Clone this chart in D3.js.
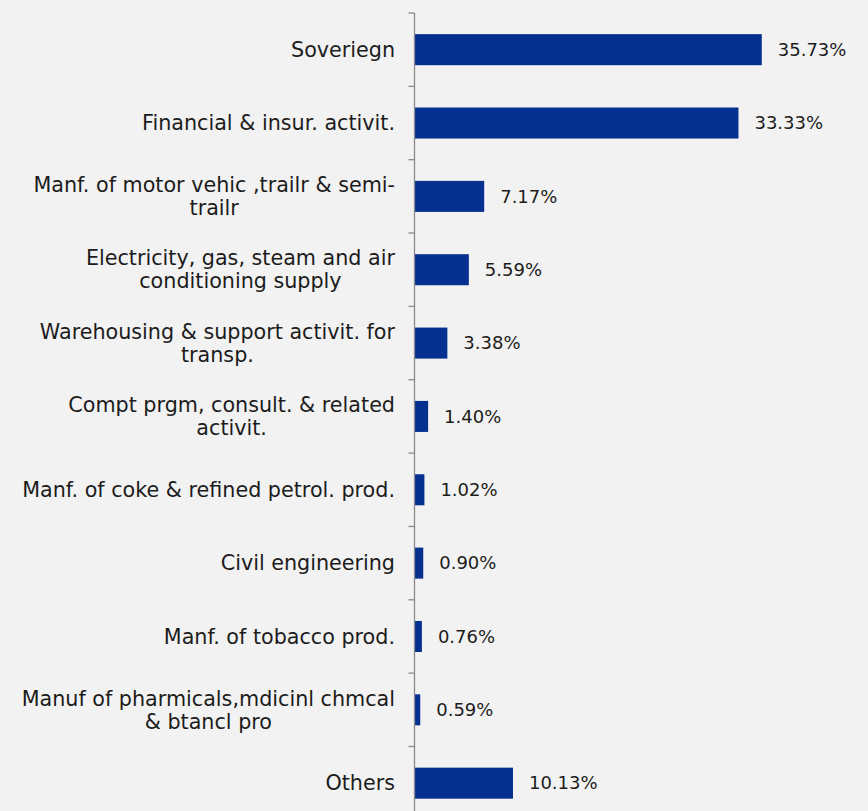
<!DOCTYPE html>
<html>
<head>
<meta charset="utf-8">
<script src="https://cdn.jsdelivr.net/npm/d3@7/dist/d3.min.js"></script>
<style>
  html, body { margin: 0; padding: 0; background: #f2f2f2; }
  svg { display: block; }
  text { font-family: "DejaVu Sans", sans-serif; fill: #1c1c1c; }
</style>
</head>
<body>
<script>
// Sector exposure, share of total (%)
const categories = [
  "Soveriegn",
  "Financial & insur. activit.",
  "Manf. of motor vehic ,trailr & semi-trailr",
  "Electricity, gas, steam and air conditioning supply",
  "Warehousing & support activit. for transp.",
  "Compt prgm, consult. & related activit.",
  "Manf. of coke & refined petrol. prod.",
  "Civil engineering",
  "Manf. of tobacco prod.",
  "Manuf of pharmicals,mdicinl chmcal & btancl pro",
  "Others"
];
// How each category name wraps onto lines
const labelLines = [
  ["Soveriegn"],
  ["Financial & insur. activit."],
  ["Manf. of motor vehic ,trailr & semi-", "trailr"],
  ["Electricity, gas, steam and air", "conditioning supply"],
  ["Warehousing & support activit. for", "transp."],
  ["Compt prgm, consult. & related", "activit."],
  ["Manf. of coke & refined petrol. prod."],
  ["Civil engineering"],
  ["Manf. of tobacco prod."],
  ["Manuf of pharmicals,mdicinl chmcal", "& btancl pro"],
  ["Others"]
];
const values = [35.73, 33.33, 7.17, 5.59, 3.38, 1.40, 1.02, 0.90, 0.76, 0.59, 10.13];

const W = 868, H = 811;
const axisX = 414.5;
const plotTop = 13;
const step = 73.35;
const barColor = "#05308f";
const catFontSize = 20.7;
const valFontSize = 18;

const svg = d3.select("body").append("svg")
  .attr("width", W).attr("height", H);

const x = d3.scaleLinear().domain([0, 40]).range([axisX, axisX + 9.72 * 40]);
const y = d3.scaleBand()
  .domain(categories)
  .range([plotTop, plotTop + step * categories.length])
  .paddingInner(0.577)
  .paddingOuter(0.577 / 2);

// bars
svg.append("g").selectAll("rect")
  .data(categories)
  .join("rect")
  .attr("x", x(0))
  .attr("y", d => y(d))
  .attr("width", (d, i) => x(values[i]) - x(0))
  .attr("height", y.bandwidth())
  .attr("fill", barColor);

// vertical category axis with boundary ticks
const axis = svg.append("g");
axis.append("line")
  .attr("x1", axisX).attr("x2", axisX)
  .attr("y1", plotTop).attr("y2", H + 10)
  .attr("stroke", "#8a8a8a").attr("stroke-width", 1.3);
axis.selectAll("line.tick")
  .data(d3.range(categories.length + 1))
  .join("line")
  .attr("class", "tick")
  .attr("x1", axisX - 6).attr("x2", axisX)
  .attr("y1", i => plotTop + i * step).attr("y2", i => plotTop + i * step)
  .attr("stroke", "#8a8a8a").attr("stroke-width", 1.3);

// category labels: block right-aligned, lines centred within the block
const labelRight = 395;
const lineGap = 23;
const labels = svg.append("g").attr("font-size", catFontSize);
categories.forEach((c, i) => {
  const lines = labelLines[i];
  const cy = y(c) + y.bandwidth() / 2;
  const t = labels.append("text").attr("text-anchor", "middle");
  const spans = lines.map((ln, j) =>
    t.append("tspan")
      .attr("y", cy + (j - (lines.length - 1) / 2) * lineGap)
      .attr("dy", "0.35em")
      .text(ln));
  const widest = d3.max(spans, s => s.node().getComputedTextLength());
  spans.forEach(s => s.attr("x", labelRight - widest / 2));
});

// value labels
svg.append("g").attr("font-size", valFontSize)
  .selectAll("text")
  .data(categories)
  .join("text")
  .attr("x", (d, i) => x(values[i]) + 16)
  .attr("y", d => y(d) + y.bandwidth() / 2)
  .attr("dy", "0.35em")
  .text((d, i) => values[i].toFixed(2) + "%");
</script>
</body>
</html>
